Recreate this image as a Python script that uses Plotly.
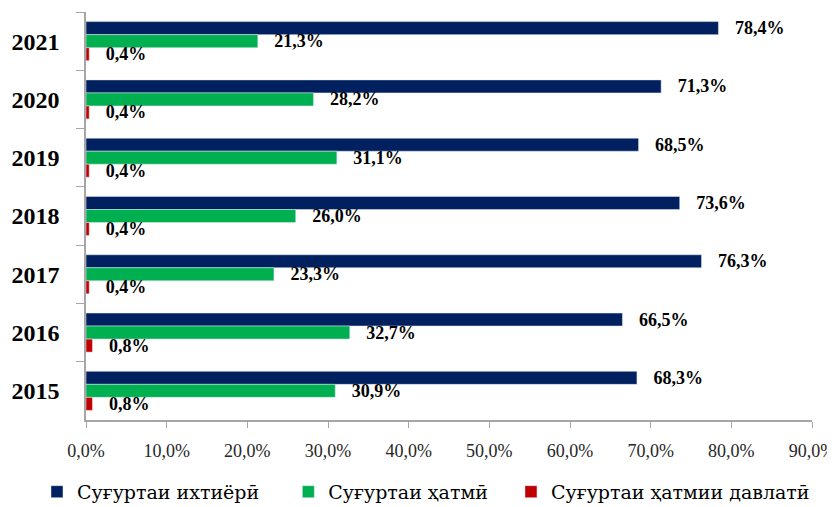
import plotly.graph_objects as go

years = ["2021", "2020", "2019", "2018", "2017", "2016", "2015"]
voluntary = [78.4, 71.3, 68.5, 73.6, 76.3, 66.5, 68.3]
mandatory = [21.3, 28.2, 31.1, 26.0, 23.3, 32.7, 30.9]
state_mandatory = [0.4, 0.4, 0.4, 0.4, 0.4, 0.8, 0.8]

series = [
    ("Суғуртаи ихтиёрӣ", voluntary, "#002060"),
    ("Суғуртаи ҳатмӣ", mandatory, "#00B050"),
    ("Суғуртаи ҳатмии давлатӣ", state_mandatory, "#C00000"),
]

# trailing no-break spaces widen the legend entries to the reference spacing
legend_pad = [4, 3, 0]

serif = "Liberation Serif, DejaVu Serif, serif"
legend_font = "DejaVu Serif, serif"

fig = go.Figure()
for (name, values, color), pad in zip(series, legend_pad):
    fig.add_trace(go.Bar(
        y=years,
        x=values,
        name=name + "\u00a0" * pad,
        orientation="h",
        marker=dict(color=color),
        texttemplate="\u00a0\u00a0\u00a0%{x:.1f}%",
        textposition="outside",
        constraintext="none",
        textfont=dict(family=serif, size=18, color="#000000", weight="bold"),
        cliponaxis=False,
        hoverinfo="skip",
    ))

# the page body adds an 8px margin, so the figure starts 8px in and
# runs a little past the window on the right and bottom
fig.update_layout(
    width=843,
    height=515,
    barmode="group",
    bargap=0.33,
    bargroupgap=0,
    separators=", ",
    plot_bgcolor="white",
    paper_bgcolor="white",
    margin=dict(l=78, r=39, t=4, b=103),
    font=dict(family=serif, color="#000000"),
    xaxis=dict(
        range=[0, 90],
        dtick=10,
        tickformat=".1f",
        ticksuffix="%",
        showgrid=False,
        zeroline=False,
        showline=True,
        linecolor="#A6A6A6",
        linewidth=1.5,
        ticks="outside",
        ticklen=6,
        tickcolor="#A6A6A6",
        ticklabelstandoff=8,
        automargin=False,
        tickfont=dict(family=serif, size=18, color="#262626"),
    ),
    yaxis=dict(
        autorange="reversed",
        showgrid=False,
        zeroline=False,
        showline=True,
        linecolor="#A6A6A6",
        linewidth=1.5,
        ticks="outside",
        ticklen=8,
        tickcolor="#A6A6A6",
        tickson="boundaries",
        ticklabelstandoff=20,
        automargin=False,
        tickfont=dict(family=serif, size=24, color="#000000", weight="bold"),
    ),
    showlegend=True,
    legend=dict(
        orientation="h",
        x=-0.0675,
        xanchor="left",
        y=-0.176,
        yanchor="middle",
        font=dict(family=legend_font, size=19, color="#000000"),
        itemwidth=30,
    ),
)

fig.write_html("out.html")
